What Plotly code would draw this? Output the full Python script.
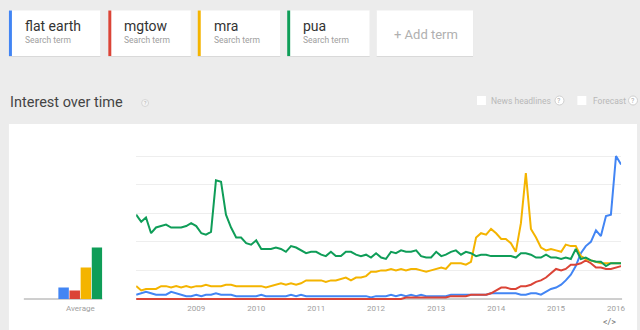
import pandas as pd
import plotly.graph_objects as go

W, H = 640, 330

# ---- data -------------------------------------------------------------
terms = ["flat earth", "mgtow", "mra", "pua"]
term_colors = ["#4285f4", "#db4437", "#f4b400", "#0f9d58"]
months = pd.date_range("2008-01-01", periods=98, freq="MS")
year_ticks = [2009, 2010, 2011, 2012, 2013, 2014, 2015, 2016]

flat_earth = [3, 4, 5, 4, 3, 3, 3, 5, 4, 3, 2, 2, 3, 2, 3, 3, 4, 3, 3, 3,
              2, 2, 2, 2, 2, 3, 2, 2, 2, 2, 2, 3, 2, 3, 2, 2, 2, 2, 2, 2,
              2, 2, 2, 2, 2, 2, 2, 1, 2, 2, 2, 3, 2, 3, 2, 3, 2, 3, 2, 2,
              2, 2, 2, 3, 3, 3, 3, 3, 3, 3, 3, 4, 4, 4, 4, 4, 4, 3, 3, 4,
              4, 3, 5, 7, 8, 10, 13, 17, 23, 32, 37, 40, 48, 44, 58, 59, 100, 94]

mgtow = [0] * 54 + [1, 1, 1, 1, 1, 1, 1, 1, 1,
                    2, 2, 2, 2, 3, 3, 3, 3, 4, 6, 8, 8, 7, 7, 9, 9, 10, 12, 13,
                    15, 18, 21, 20, 21, 24, 24, 25, 27, 25, 22, 22, 21, 21, 22, 23]

mra = [9, 6, 7, 7, 7, 9, 9, 8, 9, 8, 9, 8, 9, 9, 10, 9, 9, 9, 10, 10,
       9, 9, 9, 9, 9, 9, 8, 9, 10, 11, 10, 11, 10, 11, 13, 13, 13, 13, 12, 13,
       13, 14, 15, 13, 15, 15, 16, 19, 19, 20, 20, 21, 20, 21, 20, 21, 21, 20, 19, 20,
       21, 22, 21, 25, 25, 25, 24, 26, 43, 46, 45, 49, 46, 42, 42, 39, 33, 53, 88, 49,
       43, 36, 34, 35, 34, 33, 38, 37, 37, 30, 28, 27, 26, 25, 25, 25, 25, 25]

pua = [59, 54, 57, 46, 50, 51, 52, 50, 50, 50, 51, 53, 51, 46, 45, 47, 83, 82, 59, 50,
       43, 43, 39, 38, 41, 35, 35, 35, 36, 35, 33, 37, 36, 34, 32, 33, 33, 31, 30, 33,
       30, 30, 33, 33, 31, 30, 31, 29, 32, 29, 28, 33, 32, 34, 33, 33, 34, 30, 29, 29,
       33, 30, 31, 33, 34, 31, 33, 32, 30, 31, 31, 30, 30, 30, 30, 30, 29, 32, 32, 31,
       29, 29, 31, 29, 29, 28, 29, 28, 35, 28, 29, 27, 26, 26, 23, 25, 25, 25]

averages = [8, 6, 22, 36]

series = [flat_earth, mgtow, mra, pua]


# ---- helpers: pixel -> paper coordinates --------------------------------
def px(x):
    return x / W


def py(y):
    return 1 - y / H


shapes = []
annotations = []


def rect(x0, y0, x1, y1, fill, layer="below"):
    shapes.append(dict(type="rect", xref="paper", yref="paper",
                       x0=px(x0), x1=px(x1), y0=py(y1), y1=py(y0),
                       fillcolor=fill, line=dict(width=0), layer=layer))


def circle(cx, cy, r, fill, border):
    shapes.append(dict(type="circle", xref="paper", yref="paper",
                       x0=px(cx - r), x1=px(cx + r), y0=py(cy + r), y1=py(cy - r),
                       fillcolor=fill, line=dict(color=border, width=1), layer="below"))


def label(x, y, text, size, color, family="Roboto", anchor="left"):
    annotations.append(dict(xref="paper", yref="paper", x=px(x), y=py(y), text=text,
                            showarrow=False, xanchor=anchor, yanchor="middle",
                            font=dict(family=family, size=size, color=color)))


# ---- search term cards ---------------------------------------------------
card_lefts = [9, 109, 199, 289]
card_rights = [101, 192, 282, 372]
for left, right, name, col in zip(card_lefts, card_rights, terms, term_colors):
    rect(left, 11, right, 57, "#d9d9d9")
    rect(left, 10.5, right, 56, "#ffffff")
    rect(left, 10.5, left + 3, 56, col)
    label(left + 14, 26, name, 14, "#333333")
    label(left + 14, 40.5, "Search term", 8.5, "#9e9e9e")

rect(379, 11, 476, 57, "#d9d9d9")
rect(379, 10.5, 476, 56, "#ffffff")
label(394, 34, "+ Add term", 13, "#b0b0b0")

# ---- section header --------------------------------------------------------
label(8, 102, "Interest over time", 14.5, "#444444")
circle(146, 103, 3.5, "#f4f4f4", "#d6d6d6")
label(146, 103, "?", 5, "#aaaaaa", anchor="center")

rect(480, 96, 489, 105, "#ffffff")
label(492, 100.5, "News headlines", 8.5, "#b8b8b8")
circle(563, 100.5, 4.5, "#ffffff", "#cfcfcf")
label(563, 100.5, "?", 7, "#a8a8a8", anchor="center")
rect(581, 96, 590, 105, "#ffffff")
label(595, 100.5, "Forecast", 8.5, "#b8b8b8")
circle(637, 100.5, 4.5, "#ffffff", "#cfcfcf")
label(637, 100.5, "?", 7, "#a8a8a8", anchor="center")

# ---- chart card --------------------------------------------------------------
rect(9, 124, 641, 331, "#ffffff")

# baselines
shapes.append(dict(type="line", xref="paper", yref="y", x0=px(137), x1=px(626),
                   y0=0, y1=0, line=dict(color="#9e9e9e", width=1), layer="below"))
shapes.append(dict(type="line", xref="paper", yref="y", x0=px(24), x1=px(103),
                   y0=0, y1=0, line=dict(color="#9e9e9e", width=1), layer="below"))

label(81, 308, "Average", 8, "#a0a0a0", anchor="center")
label(613, 322, "&lt;/&gt;", 9, "#777777", anchor="center")

# ---- traces --------------------------------------------------------------------
fig = go.Figure()
for name, vals, col in zip(terms, series, term_colors):
    fig.add_trace(go.Scatter(x=months, y=vals, name=name, mode="lines",
                             line=dict(color=col, width=2),
                             xaxis="x", yaxis="y", hoverinfo="x+y+name"))

fig.add_trace(go.Bar(x=terms, y=averages, marker=dict(color=term_colors, line=dict(width=0)),
                     width=0.94, xaxis="x2", yaxis="y2", hoverinfo="x+y"))

# y pixel mapping: 0 -> 299px, 100 -> 156px
y_lo, y_hi = -2, 102
k = (299 - 156) / 100
dom_bottom = py(299 - k * y_lo)
dom_top = py(299 - k * y_hi)

fig.update_layout(
    width=W, height=H,
    margin=dict(l=0, r=0, t=0, b=0),
    paper_bgcolor="#ececec",
    plot_bgcolor="rgba(0,0,0,0)",
    showlegend=False,
    shapes=shapes,
    annotations=annotations,
    xaxis=dict(domain=[px(137), px(625)], anchor="y", type="date",
               range=["2008-01-01", "2016-02-01"],
               tickvals=[f"{y}-01-01" for y in year_ticks],
               ticktext=[str(y) for y in year_ticks],
               showgrid=False, zeroline=False, showline=False, ticks="",
               tickfont=dict(family="Roboto", size=8, color="#a0a0a0")),
    yaxis=dict(domain=[dom_bottom, dom_top], range=[y_lo, y_hi], anchor="x",
               tickvals=[20, 40, 60, 80, 100], showticklabels=False,
               showgrid=True, gridcolor="#eeeeee", gridwidth=1,
               zeroline=False, showline=False, ticks=""),
    xaxis2=dict(domain=[px(24), px(103)], anchor="y2", type="category",
                categoryorder="array", categoryarray=terms,
                range=[-3.57, 3.48], showticklabels=False,
                showgrid=False, zeroline=False, showline=False, ticks=""),
    yaxis2=dict(domain=[dom_bottom, dom_top], range=[y_lo, y_hi], anchor="x2",
                showticklabels=False, showgrid=False,
                zeroline=False, showline=False, ticks=""),
)

fig.write_html("out.html")
